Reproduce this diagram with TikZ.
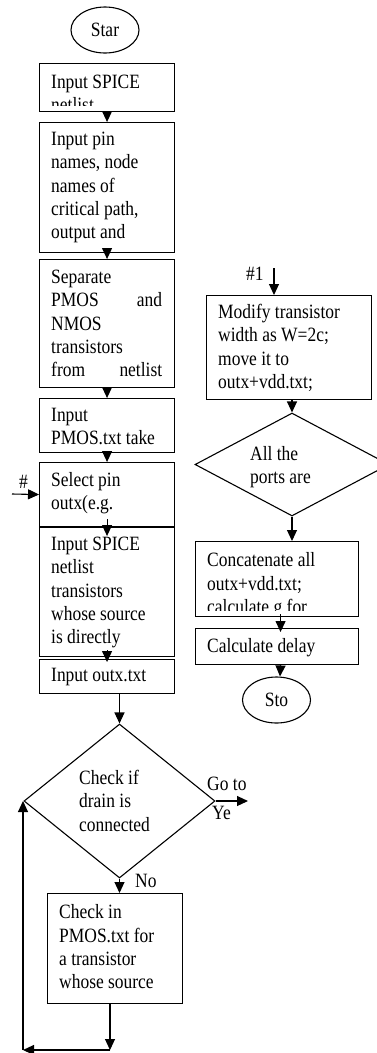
\documentclass[tikz,border=0pt]{standalone}
\usepackage{fontspec}
\setmainfont{Liberation Serif}[FakeStretch=0.86]
\usetikzlibrary{arrows.meta, positioning, shapes.geometric}

% box with its text clipped to the frame
\newcommand{\flowbox}[6][10pt]{%
  \node[procbox, minimum width=#4, minimum height=#5] (#2) at (#3) {};
  \begin{scope}
    \clip ([yshift=6.5pt]#2.south west) rectangle (#2.north east);
    \node[boxtext] (#2txt) at ([xshift=12pt,yshift=-#1]#2.north west) {#6};
  \end{scope}}

\begin{document}
\begin{tikzpicture}[
    x=1pt, y=-1pt,
    every node/.style={font=\fontsize{20.3pt}{23.3pt}\selectfont},
    procbox/.style={draw, rectangle, line width=1.1pt, anchor=north west, inner sep=0pt},
    boxtext/.style={anchor=north west, inner sep=0pt, align=left},
    terminal/.style={draw, ellipse, line width=1.1pt, minimum width=68pt, minimum height=46pt, inner sep=0pt},
    decision/.style={draw, diamond, line width=1.1pt, inner sep=0pt},
    dtext/.style={anchor=north west, inner sep=0pt, align=left},
    lbl/.style={anchor=base west, inner sep=0pt},
    arrow/.style={-{Triangle[length=11pt,width=10pt]}, line width=1.1pt}
  ]
  \useasboundingbox (0,0) rectangle (376,1053);

  % left column
  \node[terminal] (start) at (105,30) {Star};
  \flowbox[12pt]{in1}{39,63}{135pt}{48pt}{Input SPICE\\netlist}
  \flowbox{in2}{39,122}{135pt}{130pt}{Input pin\\names, node\\names of\\critical path,\\output and}
  \flowbox[11pt]{sep}{39,259}{135pt}{128pt}{Separate\\\makebox[111pt][l]{PMOS\hfill and}\\NMOS\\transistors\\\makebox[111pt][l]{from\hfill netlist}}
  \flowbox{pmos}{39,398}{135pt}{54pt}{Input\\PMOS.txt take}
  \flowbox{sel}{39,462}{135pt}{64pt}{Select pin\\outx(e.g.}
  \flowbox{src}{39,527}{135pt}{129pt}{Input SPICE\\netlist\\transistors\\whose source\\is directly}
  \flowbox[9pt]{outx}{39,659}{135pt}{34pt}{Input outx.txt}
  \node[decision, minimum width=191pt, minimum height=154pt] (drain) at (119.5,801) {};
  \node[dtext] (draintxt) at (79,770) {Check if\\drain is\\connected};
  \flowbox[11.5pt]{chkin}{47,893}{135pt}{110pt}{Check in\\PMOS.txt for\\a transistor\\whose source}

  \node[lbl] (hashlbl) at (19,488) {\#};
  \node[lbl] (golbl) at (207,790) {Go to};
  \node[lbl] (yeslbl) at (212,819) {Ye};
  \node[lbl] (nolbl) at (135,887) {No};

  \coordinate (hashin) at (12,494);
  \coordinate (goto) at (248,801);
  \coordinate (loopR) at (110,1050);
  \coordinate (loopL) at (23,1050);

  % right column
  \node[lbl] (hashonelbl) at (246,280) {\#1};
  \coordinate (hashone) at (274,268);
  \flowbox[9pt]{mod}{206,295}{165pt}{104pt}{Modify transistor\\width as W=2c;\\move it to\\outx+vdd.txt;}
  \node[decision, minimum width=194pt, minimum height=103pt] (ports) at (292,464.5) {};
  \node[dtext] (portstxt) at (250,446) {All the\\ports are};
  \flowbox[11.5pt]{cat}{195,541}{163pt}{75pt}{Concatenate all\\outx+vdd.txt;\\calculate g for}
  \flowbox{delay}{195,628}{163pt}{36pt}{Calculate delay}
  \node[terminal] (stop) at (276.5,700) {Sto};

  % connectors
  \draw[arrow] (in1.south) -- (in2.north);
  \draw[arrow] (in2.south) -- (sep.north);
  \draw[arrow] (sep.south) -- (pmos.north);
  \draw[arrow] (pmos.south) -- (sel.north);
  \draw[arrow] (hashin) -- (sel.west);
  \draw[arrow] ([yshift=8pt]sel.south) -- ([yshift=-9pt]src.north);
  \draw[arrow] ([yshift=7pt]src.south) -- ([yshift=-3pt]outx.north);
  \draw[arrow] (outx.south -| drain.north) -- (drain.north);
  \draw[arrow] (drain.east) -- (goto);
  \draw[arrow] (drain.south) -- (drain.south |- chkin.north);
  \draw[arrow] (chkin.south -| loopR) -- (loopR);
  \draw[arrow] (loopR) -- (loopL);
  \draw[arrow] (loopL) -- (loopL |- drain.west);

  \draw[arrow] (hashone) -- (hashone |- mod.north);
  \draw[arrow] (mod.south -| ports.north) -- (ports.north);
  \draw[arrow] (ports.south) -- (ports.south |- cat.north);
  \draw[arrow] ([xshift=3.5pt,yshift=3pt]cat.south) -- ([xshift=3.5pt,yshift=-4pt]delay.north);
  \draw[arrow] ([xshift=3.5pt]delay.south) -- ([xshift=3.5pt]stop.north);
\end{tikzpicture}
\end{document}
